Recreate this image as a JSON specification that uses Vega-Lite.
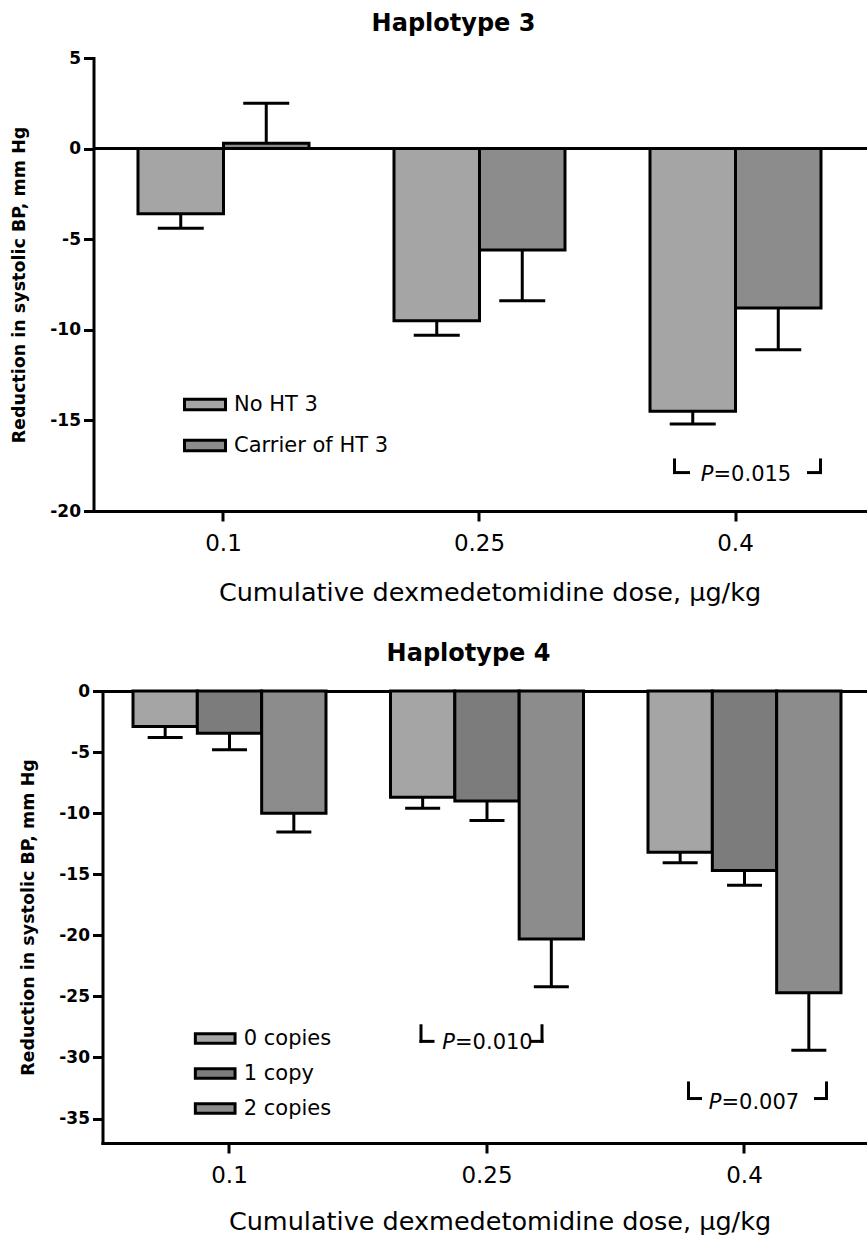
{
  "$schema": "https://vega.github.io/schema/vega-lite/v6.json",
  "background": "white",
  "padding": {"left": 10.5, "top": 12, "right": 0, "bottom": 0},
  "columns": 1,
  "spacing": 35,
  "resolve": {"scale": {"x": "independent", "y": "independent", "color": "independent", "xOffset": "independent"}},
  "datasets": {
    "h3": [
      {"dose": "0.1", "group": "No HT 3", "mean": -3.6, "err": -4.4},
      {"dose": "0.1", "group": "Carrier of HT 3", "mean": 0.3, "err": 2.5},
      {"dose": "0.25", "group": "No HT 3", "mean": -9.5, "err": -10.3},
      {"dose": "0.25", "group": "Carrier of HT 3", "mean": -5.6, "err": -8.4},
      {"dose": "0.4", "group": "No HT 3", "mean": -14.5, "err": -15.2},
      {"dose": "0.4", "group": "Carrier of HT 3", "mean": -8.8, "err": -11.1}
    ],
    "h4": [
      {"dose": "0.1", "group": "0 copies", "mean": -2.9, "err": -3.8},
      {"dose": "0.1", "group": "1 copy", "mean": -3.45, "err": -4.8},
      {"dose": "0.1", "group": "2 copies", "mean": -10.0, "err": -11.55},
      {"dose": "0.25", "group": "0 copies", "mean": -8.7, "err": -9.6},
      {"dose": "0.25", "group": "1 copy", "mean": -9.0, "err": -10.6},
      {"dose": "0.25", "group": "2 copies", "mean": -20.3, "err": -24.2},
      {"dose": "0.4", "group": "0 copies", "mean": -13.2, "err": -14.05},
      {"dose": "0.4", "group": "1 copy", "mean": -14.7, "err": -15.9},
      {"dose": "0.4", "group": "2 copies", "mean": -24.7, "err": -29.4}
    ]
  },
  "concat": [
    {
      "width": 774,
      "height": 453,
      "title": {"text": "Haplotype 3", "frame": "group", "anchor": "middle", "dx": -27, "offset": 13, "font": "DejaVu Sans", "fontSize": 24, "fontWeight": "bold", "color": "black"},
      "data": {"name": "h3"},
      "layer": [
        {
          "mark": {"type": "bar", "stroke": "black", "strokeWidth": 3, "strokeJoin": "miter", "opacity": 1},
          "encoding": {
            "x": {"field": "dose", "type": "nominal", "sort": ["0.1", "0.25", "0.4"], "title": "Cumulative dexmedetomidine dose, μg/kg",
                  "scale": {"paddingInner": 0.332, "paddingOuter": 0.1777, "align": 0.489},
                  "axis": {"titleX": 396}},
            "xOffset": {"field": "group", "type": "nominal", "sort": ["No HT 3", "Carrier of HT 3"], "scale": {"paddingInner": 0, "paddingOuter": 0}},
            "y": {"field": "mean", "type": "quantitative", "stack": null, "title": "Reduction in systolic BP, mm Hg",
                  "scale": {"domain": [-20, 5], "nice": false},
                  "axis": {"values": [5, 0, -5, -10, -15, -20], "labelExpr": "'' + datum.value", "titlePadding": 21}},
            "color": {"field": "group", "type": "nominal",
                      "scale": {"domain": ["No HT 3", "Carrier of HT 3"], "range": ["#a5a5a5", "#8c8c8c"]},
                      "legend": {"title": null, "orient": "none", "legendX": 89.5, "legendY": 324.5,
                                 "symbolType": "M-1,-0.251H1V0.251H-1Z", "symbolSize": 1681,
                                 "symbolStrokeColor": "black", "symbolStrokeWidth": 3, "symbolOpacity": 1,
                                 "labelFont": "DejaVu Sans", "labelFontSize": 21, "labelColor": "black",
                                 "labelOffset": 7, "rowPadding": 7, "padding": 0, "labelLimit": 400}}
          }
        },
        {
          "mark": {"type": "rule", "color": "black", "strokeWidth": 3},
          "encoding": {
            "x": {"field": "dose", "type": "nominal", "sort": ["0.1", "0.25", "0.4"]},
            "xOffset": {"field": "group", "type": "nominal", "sort": ["No HT 3", "Carrier of HT 3"]},
            "y": {"field": "mean", "type": "quantitative"},
            "y2": {"field": "err"}
          }
        },
        {
          "mark": {"type": "tick", "orient": "horizontal", "color": "black", "thickness": 3, "size": 46, "opacity": 1},
          "encoding": {
            "x": {"field": "dose", "type": "nominal", "sort": ["0.1", "0.25", "0.4"]},
            "xOffset": {"field": "group", "type": "nominal", "sort": ["No HT 3", "Carrier of HT 3"]},
            "y": {"field": "err", "type": "quantitative"}
          }
        },
        {
          "data": {"values": [{}]},
          "mark": {"type": "rule", "color": "black", "strokeWidth": 3},
          "encoding": {"y": {"datum": 0}}
        },
        {
          "data": {"values": [{}]},
          "mark": {"type": "rule", "color": "black", "strokeWidth": 3, "xOffset": -61},
          "encoding": {"x": {"datum": "0.4"}, "y": {"datum": -17.1}, "y2": {"datum": -17.96}}
        },
        {
          "data": {"values": [{}]},
          "mark": {"type": "tick", "orient": "horizontal", "color": "black", "thickness": 3, "size": 17, "opacity": 1, "xOffset": -54},
          "encoding": {"x": {"datum": "0.4"}, "y": {"datum": -17.88}}
        },
        {
          "data": {"values": [{}]},
          "mark": {"type": "rule", "color": "black", "strokeWidth": 3, "xOffset": 85},
          "encoding": {"x": {"datum": "0.4"}, "y": {"datum": -17.1}, "y2": {"datum": -17.96}}
        },
        {
          "data": {"values": [{}]},
          "mark": {"type": "tick", "orient": "horizontal", "color": "black", "thickness": 3, "size": 15, "opacity": 1, "xOffset": 79},
          "encoding": {"x": {"datum": "0.4"}, "y": {"datum": -17.88}}
        },
        {
          "data": {"values": [{}]},
          "mark": {"type": "text", "text": "P", "font": "DejaVu Sans", "fontSize": 21, "fontStyle": "italic", "align": "right", "baseline": "middle", "dx": -22, "color": "black"},
          "encoding": {"x": {"datum": "0.4"}, "y": {"datum": -18.0}}
        },
        {
          "data": {"values": [{}]},
          "mark": {"type": "text", "text": "=0.015", "font": "DejaVu Sans", "fontSize": 21, "align": "left", "baseline": "middle", "dx": -22, "color": "black"},
          "encoding": {"x": {"datum": "0.4"}, "y": {"datum": -18.0}}
        }
      ]
    },
    {
      "width": 774,
      "height": 452,
      "title": {"text": "Haplotype 4", "frame": "group", "anchor": "middle", "dx": -12, "offset": 16, "font": "DejaVu Sans", "fontSize": 24, "fontWeight": "bold", "color": "black"},
      "data": {"name": "h4"},
      "layer": [
        {
          "mark": {"type": "bar", "stroke": "black", "strokeWidth": 3, "strokeJoin": "miter", "opacity": 1},
          "encoding": {
            "x": {"field": "dose", "type": "nominal", "sort": ["0.1", "0.25", "0.4"], "title": "Cumulative dexmedetomidine dose, μg/kg",
                  "scale": {"range": [9, 774], "paddingInner": 0.2505, "paddingOuter": 0.1107, "align": 0.535},
                  "axis": {"orient": "bottom", "titlePadding": 22, "titleX": 406}},
            "xOffset": {"field": "group", "type": "nominal", "sort": ["0 copies", "1 copy", "2 copies"], "scale": {"paddingInner": 0, "paddingOuter": 0}},
            "y": {"field": "mean", "type": "quantitative", "stack": null, "title": "Reduction in systolic BP, mm Hg",
                  "scale": {"domain": [-37, 0], "nice": false},
                  "axis": {"values": [0, -5, -10, -15, -20, -25, -30, -35], "labelExpr": "'' + datum.value", "titlePadding": 21, "offset": -9}},
            "color": {"field": "group", "type": "nominal",
                      "scale": {"domain": ["0 copies", "1 copy", "2 copies"], "range": ["#a5a5a5", "#7c7c7c", "#8c8c8c"]},
                      "legend": {"title": null, "orient": "none", "legendX": 100.2, "legendY": 326,
                                 "symbolType": "M-1,-0.244H1V0.244H-1Z", "symbolSize": 1576,
                                 "symbolStrokeColor": "black", "symbolStrokeWidth": 3, "symbolOpacity": 1,
                                 "labelFont": "DejaVu Sans", "labelFontSize": 21, "labelColor": "black",
                                 "labelOffset": 7, "rowPadding": 2, "padding": 0, "labelLimit": 400}}
          }
        },
        {
          "mark": {"type": "rule", "color": "black", "strokeWidth": 3},
          "encoding": {
            "x": {"field": "dose", "type": "nominal", "sort": ["0.1", "0.25", "0.4"],
                  "axis": {"orient": "top", "labels": false, "ticks": false, "title": null}},
            "xOffset": {"field": "group", "type": "nominal", "sort": ["0 copies", "1 copy", "2 copies"]},
            "y": {"field": "mean", "type": "quantitative"},
            "y2": {"field": "err"}
          }
        },
        {
          "mark": {"type": "tick", "orient": "horizontal", "color": "black", "thickness": 3, "size": 35, "opacity": 1},
          "encoding": {
            "x": {"field": "dose", "type": "nominal", "sort": ["0.1", "0.25", "0.4"], "axis": null},
            "xOffset": {"field": "group", "type": "nominal", "sort": ["0 copies", "1 copy", "2 copies"]},
            "y": {"field": "err", "type": "quantitative"}
          }
        },
        {
          "data": {"values": [{}]},
          "mark": {"type": "rule", "color": "black", "strokeWidth": 3, "xOffset": -66},
          "encoding": {"x": {"datum": "0.25", "axis": null}, "y": {"datum": -27.28}, "y2": {"datum": -28.8}}
        },
        {
          "data": {"values": [{}]},
          "mark": {"type": "tick", "orient": "horizontal", "color": "black", "thickness": 3, "size": 15, "opacity": 1, "xOffset": -60},
          "encoding": {"x": {"datum": "0.25", "axis": null}, "y": {"datum": -28.68}}
        },
        {
          "data": {"values": [{}]},
          "mark": {"type": "rule", "color": "black", "strokeWidth": 3, "xOffset": 55},
          "encoding": {"x": {"datum": "0.25", "axis": null}, "y": {"datum": -27.28}, "y2": {"datum": -28.8}}
        },
        {
          "data": {"values": [{}]},
          "mark": {"type": "tick", "orient": "horizontal", "color": "black", "thickness": 3, "size": 13, "opacity": 1, "xOffset": 50},
          "encoding": {"x": {"datum": "0.25", "axis": null}, "y": {"datum": -28.68}}
        },
        {
          "data": {"values": [{}]},
          "mark": {"type": "text", "text": "P", "font": "DejaVu Sans", "fontSize": 21, "fontStyle": "italic", "align": "right", "baseline": "middle", "dx": -32, "color": "black"},
          "encoding": {"x": {"datum": "0.25", "axis": null}, "y": {"datum": -28.84}}
        },
        {
          "data": {"values": [{}]},
          "mark": {"type": "text", "text": "=0.010", "font": "DejaVu Sans", "fontSize": 21, "align": "left", "baseline": "middle", "dx": -32, "color": "black"},
          "encoding": {"x": {"datum": "0.25", "axis": null}, "y": {"datum": -28.84}}
        },
        {
          "data": {"values": [{}]},
          "mark": {"type": "rule", "color": "black", "strokeWidth": 3, "xOffset": -56},
          "encoding": {"x": {"datum": "0.4", "axis": null}, "y": {"datum": -31.96}, "y2": {"datum": -33.48}}
        },
        {
          "data": {"values": [{}]},
          "mark": {"type": "tick", "orient": "horizontal", "color": "black", "thickness": 3, "size": 15, "opacity": 1, "xOffset": -50},
          "encoding": {"x": {"datum": "0.4", "axis": null}, "y": {"datum": -33.36}}
        },
        {
          "data": {"values": [{}]},
          "mark": {"type": "rule", "color": "black", "strokeWidth": 3, "xOffset": 82},
          "encoding": {"x": {"datum": "0.4", "axis": null}, "y": {"datum": -31.96}, "y2": {"datum": -33.48}}
        },
        {
          "data": {"values": [{}]},
          "mark": {"type": "tick", "orient": "horizontal", "color": "black", "thickness": 3, "size": 14, "opacity": 1, "xOffset": 76.5},
          "encoding": {"x": {"datum": "0.4", "axis": null}, "y": {"datum": -33.36}}
        },
        {
          "data": {"values": [{}]},
          "mark": {"type": "text", "text": "P", "font": "DejaVu Sans", "fontSize": 21, "fontStyle": "italic", "align": "right", "baseline": "middle", "dx": -23, "color": "black"},
          "encoding": {"x": {"datum": "0.4", "axis": null}, "y": {"datum": -33.69}}
        },
        {
          "data": {"values": [{}]},
          "mark": {"type": "text", "text": "=0.007", "font": "DejaVu Sans", "fontSize": 21, "align": "left", "baseline": "middle", "dx": -23, "color": "black"},
          "encoding": {"x": {"datum": "0.4", "axis": null}, "y": {"datum": -33.69}}
        }
      ]
    }
  ],
  "config": {
    "view": {"stroke": null},
    "axis": {"domainColor": "black", "tickColor": "black", "labelColor": "black", "titleColor": "black",
             "domainWidth": 3, "tickWidth": 3, "tickSize": 10, "grid": false, "domainCap": "square"},
    "axisX": {"labelAngle": 0, "labelFont": "DejaVu Sans", "labelFontSize": 23, "labelFontWeight": "normal", "labelPadding": 11.6,
              "titleFont": "DejaVu Sans", "titleFontSize": 25.5, "titleFontWeight": "normal", "titlePadding": 25},
    "axisY": {"labelFont": "DejaVu Sans", "labelFontSize": 17, "labelFontWeight": "bold", "labelPadding": 3,
              "titleFont": "DejaVu Sans", "titleFontSize": 17.5, "titleFontWeight": "bold"}
  }
}
